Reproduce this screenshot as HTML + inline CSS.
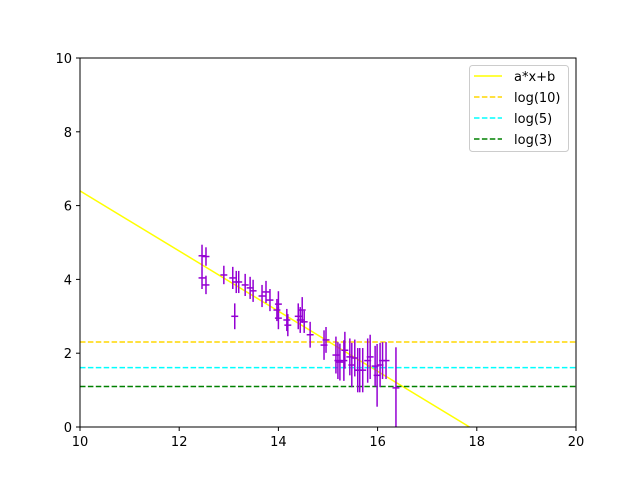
<!DOCTYPE html>
<html><head><meta charset="utf-8"><style>
body{margin:0;background:#fff;font-family:"Liberation Sans","DejaVu Sans",sans-serif}
svg text{font-family:"DejaVu Sans","Liberation Sans",sans-serif;font-size:13px}
</style></head><body>
<svg id="chart" width="640" height="480">
<rect x="0" y="0" width="640" height="480" fill="#fff"/>
<g id="plot"></g>
<rect x="80" y="58" width="496" height="369" fill="none" stroke="#000" stroke-width="1"/>
<g id="axes"></g>
<g>
<rect x="469.5" y="65.5" width="99" height="86" rx="3" fill="#fff" fill-opacity="0.8" stroke="#ccc"/>
<line x1="474" y1="76" x2="502" y2="76" stroke="#ffff00" stroke-width="1.5"/>
<text x="514" y="81">a*x+b</text>
<line x1="474" y1="97" x2="502" y2="97" stroke="#ffd700" stroke-width="1.5" stroke-dasharray="5.5,2.4"/>
<text x="514" y="102">log(10)</text>
<line x1="474" y1="118" x2="502" y2="118" stroke="#00ffff" stroke-width="1.5" stroke-dasharray="5.5,2.4"/>
<text x="514" y="123">log(5)</text>
<line x1="474" y1="139" x2="502" y2="139" stroke="#008000" stroke-width="1.5" stroke-dasharray="5.5,2.4"/>
<text x="514" y="144">log(3)</text>
</g>
</svg>
<script>
const xs=[12.46,12.54,12.46,12.54,12.9,13.08,13.15,13.2,13.12,13.33,13.43,13.49,13.67,13.75,13.83,13.97,14.0,14.0,14.17,14.19,14.4,14.44,14.48,14.52,14.64,14.92,14.96,15.16,15.2,15.24,15.32,15.34,15.44,15.48,15.54,15.6,15.64,15.7,15.8,15.85,15.95,15.99,16.05,16.1,16.17,16.37];
const ys=[4.64,4.62,4.04,3.85,4.12,4.04,3.93,3.93,3.0,3.85,3.77,3.69,3.55,3.66,3.44,3.17,3.33,2.95,2.9,2.76,3.0,2.9,3.17,2.85,2.5,2.22,2.36,1.95,1.8,1.76,1.8,2.08,1.9,1.68,1.87,1.54,1.54,1.54,1.8,1.9,1.65,1.4,1.68,1.8,1.8,1.06];
const yerr=[0.3,0.25,0.3,0.25,0.25,0.3,0.3,0.3,0.35,0.3,0.3,0.3,0.3,0.3,0.3,0.3,0.35,0.3,0.3,0.3,0.35,0.35,0.35,0.3,0.35,0.4,0.35,0.5,0.5,0.5,0.55,0.5,0.5,0.6,0.5,0.6,0.6,0.6,0.6,0.6,0.55,0.85,0.6,0.5,0.5,1.1];
const xerr=0.07;
const fitA=-0.815, fitB=14.55;
const hlines=[Math.log(10),Math.log(5),Math.log(3)];
const hcolors=["#ffd700","#00ffff","#008000"];
const hnames=["log10-line","log5-line","log3-line"];
const xticks=[10,12,14,16,18,20];
const yticks=[0,2,4,6,8,10];
const X=v=>80+(v-10)*49.6, Y=v=>427-v*36.9;
const NS="http://www.w3.org/2000/svg";
const plot=document.getElementById('plot'), axes=document.getElementById('axes');
function mk(tag,at,parent){const e=document.createElementNS(NS,tag);for(const k in at)e.setAttribute(k,at[k]);parent.appendChild(e);return e;}
const clip=mk('clipPath',{id:'c'},plot);mk('rect',{x:80,y:58,width:496,height:369},clip);
const g=mk('g',{'clip-path':'url(#c)'},plot);
const fit=mk('line',{x1:X(10),y1:Y(fitA*10+fitB),x2:X(20),y2:Y(fitA*20+fitB),stroke:'#ffff00','stroke-width':1.5},g);


hlines.forEach((v,i)=>{const l=mk('line',{x1:80,x2:576,y1:Y(v),y2:Y(v),stroke:hcolors[i],'stroke-width':1.5,'stroke-dasharray':'5.5,2.4'},g);

});
xs.forEach((x,i)=>{const e=mk('g',{stroke:'#9400d3','stroke-width':1.5},g);


mk('line',{x1:X(x),x2:X(x),y1:Y(ys[i]-yerr[i]),y2:Y(ys[i]+yerr[i])},e);
mk('line',{x1:X(x-xerr),x2:X(x+xerr),y1:Y(ys[i]),y2:Y(ys[i])},e);});
xticks.forEach(t=>{mk('line',{x1:X(t),x2:X(t),y1:427,y2:431,stroke:'#000'},axes);
const tx=mk('text',{x:X(t),y:446,'text-anchor':'middle'},axes);tx.textContent=t;

});
yticks.forEach(t=>{mk('line',{x1:76,x2:80,y1:Y(t),y2:Y(t),stroke:'#000'},axes);
const tx=mk('text',{x:72,y:Y(t)+5,'text-anchor':'end'},axes);tx.textContent=t;

});
</script>
</body></html>
